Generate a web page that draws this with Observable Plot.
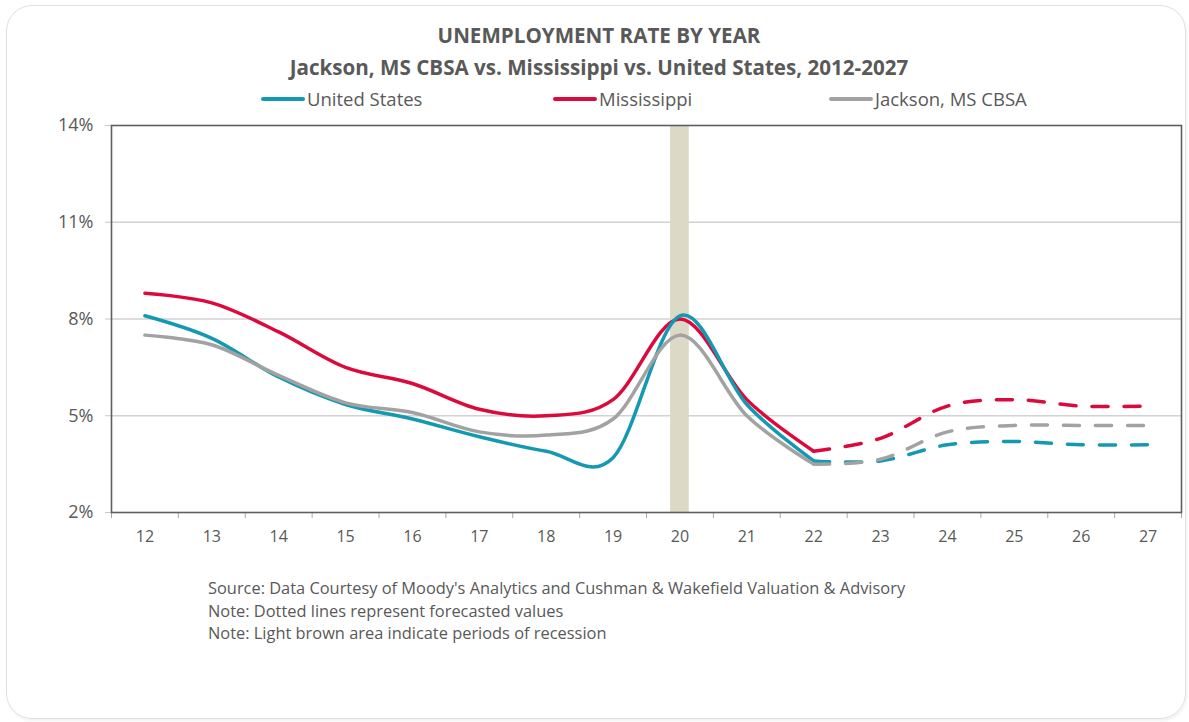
<!DOCTYPE html>
<html>
<head>
<meta charset="utf-8">
<script src="https://cdn.jsdelivr.net/npm/d3@7"></script>
<script src="https://cdn.jsdelivr.net/npm/@observablehq/plot@0.6"></script>
<style>
  body { margin: 0; background: #ffffff; font-family: "Open Sans", sans-serif; color: #595959; }
  #wrap { position: relative; width: 1189px; height: 722px; overflow: hidden; }
  #card { position: absolute; left: 6px; top: 5px; width: 1180px; height: 714px; box-sizing: border-box;
          border: 1.5px solid #e0e0e0; border-radius: 26px; box-shadow: 1px 2px 3px rgba(0,0,0,0.06); }
  .t { position: absolute; left: 10px; width: 1178px; text-align: center; font-weight: 700; white-space: nowrap; }
  #t1 { top: 23px; font-size: 20.6px; line-height: 24px; }
  #t2 { top: 55px; font-size: 20.6px; line-height: 24px; }
  #legend { position: absolute; left: 0; top: 88px; width: 1189px; height: 24px; font-size: 18.5px; line-height: 22px; white-space: nowrap; }
  .item { position: absolute; top: 0; display: flex; align-items: center; }
  .sw { width: 44px; height: 4px; border-radius: 2px; margin-right: 2px; }
  #chart { position: absolute; left: 0; top: 112px; }
  #notes { position: absolute; left: 208px; top: 577px; font-size: 16.4px; line-height: 22.5px; white-space: nowrap; }
</style>
</head>
<body>
<div id="wrap">
  <div id="card"></div>
  <div class="t" id="t1">UNEMPLOYMENT RATE BY YEAR</div>
  <div class="t" id="t2">Jackson, MS CBSA vs. Mississippi vs. United States, 2012-2027</div>
  <div id="legend"></div>
  <div id="chart"></div>
  <div id="notes"></div>
</div>
<script>
// ---- data ----
const years = [2012, 2013, 2014, 2015, 2016, 2017, 2018, 2019, 2020, 2021, 2022, 2023, 2024, 2025, 2026, 2027];
const xLabels = ["12", "13", "14", "15", "16", "17", "18", "19", "20", "21", "22", "23", "24", "25", "26", "27"];
const actualYears = [2012, 2013, 2014, 2015, 2016, 2017, 2018, 2019, 2020, 2021, 2022];
const forecastYears = [2022, 2023, 2024, 2025, 2026, 2027];

const seriesNames = ["United States", "Mississippi", "Jackson, MS CBSA"];
const seriesColors = ["#1499b2", "#dc0a3c", "#a2a2a2"];

const usActual = [8.1, 7.4, 6.2, 5.35, 4.9, 4.35, 3.9, 3.7, 8.1, 5.35, 3.6];
const msActual = [8.8, 8.5, 7.6, 6.5, 6.0, 5.2, 5.0, 5.5, 8.0, 5.5, 3.9];
const jxActual = [7.5, 7.2, 6.25, 5.4, 5.1, 4.5, 4.4, 4.9, 7.5, 5.0, 3.5];

const usForecast = [3.6, 3.6, 4.1, 4.2, 4.1, 4.1];
const msForecast = [3.9, 4.3, 5.3, 5.5, 5.3, 5.3];
const jxForecast = [3.5, 3.65, 4.5, 4.7, 4.7, 4.7];

const yTicks = [2, 5, 8, 11, 14];
const recessions = [{start: 2019.86, end: 2020.14}];

const notes = [
  "Source: Data Courtesy of Moody's Analytics and Cushman & Wakefield Valuation & Advisory",
  "Note: Dotted lines represent forecasted values",
  "Note: Light brown area indicate periods of recession"
];

// ---- build tables (draw order: Mississippi, United States, Jackson) ----
const toRows = (name, ys, vals) => ys.map((year, i) => ({series: name, year, value: vals[i]}));
const actual = [
  ...toRows("Mississippi", actualYears, msActual),
  ...toRows("United States", actualYears, usActual),
  ...toRows("Jackson, MS CBSA", actualYears, jxActual)
];
const forecast = [
  ...toRows("Mississippi", forecastYears, msForecast),
  ...toRows("United States", forecastYears, usForecast),
  ...toRows("Jackson, MS CBSA", forecastYears, jxForecast)
];
const boundaries = years.map(y => y - 0.5).concat([years[years.length - 1] + 0.5]);

// ---- legend ----
const legend = document.getElementById("legend");
const legendLeft = [261, 553, 829];
seriesNames.forEach((name, i) => {
  const it = document.createElement("div");
  it.className = "item";
  it.style.left = legendLeft[i] + "px";
  const sw = document.createElement("div");
  sw.className = "sw";
  sw.style.background = seriesColors[i];
  const tx = document.createElement("span");
  tx.textContent = name;
  it.appendChild(sw); it.appendChild(tx);
  legend.appendChild(it);
});

// ---- notes ----
const notesEl = document.getElementById("notes");
notes.forEach(n => { const d = document.createElement("div"); d.textContent = n; notesEl.appendChild(d); });

// ---- chart ----
const lineOpts = {x: "year", y: "value", z: "series", stroke: "series", curve: "cardinal", strokeWidth: 3.5, strokeLinecap: "round", strokeLinejoin: "round"};
const chart = Plot.plot({
  width: 1189,
  height: 440,
  marginLeft: 111,
  marginRight: 8,
  marginTop: 13,
  marginBottom: 40,
  x: {type: "linear", domain: [boundaries[0], boundaries[boundaries.length - 1]], label: null},
  y: {domain: [yTicks[0], yTicks[yTicks.length - 1]], label: null},
  color: {domain: seriesNames, range: seriesColors},
  style: {fontFamily: "Open Sans", fontSize: "18px", color: "#595959", background: "transparent"},
  marks: [
    Plot.gridY(yTicks.slice(1, -1), {stroke: "#d2d2d2", strokeOpacity: 1, strokeWidth: 1.3}),
    Plot.rect(recessions, {x1: "start", x2: "end", fill: "#dcd9c7"}),
    Plot.line(forecast, {...lineOpts, strokeDasharray: "16 16"}),
    Plot.line(actual, lineOpts),
    Plot.axisY(yTicks, {tickSize: 6, tickPadding: 12, tickFormat: d => d + "%", stroke: "#c8c8c8", fill: "#595959", fontSize: 18}),
    Plot.axisX(boundaries, {tickSize: 6, tickFormat: () => "", stroke: "#a8a8a8"}),
    Plot.axisX(years, {tickSize: 0, tickPadding: 18, tickFormat: d => xLabels[years.indexOf(d)], fill: "#595959", fontSize: 16}),
    Plot.frame({stroke: "#5e5e5e", strokeWidth: 1.6})
  ]
});
document.getElementById("chart").appendChild(chart);
</script>
</body>
</html>
